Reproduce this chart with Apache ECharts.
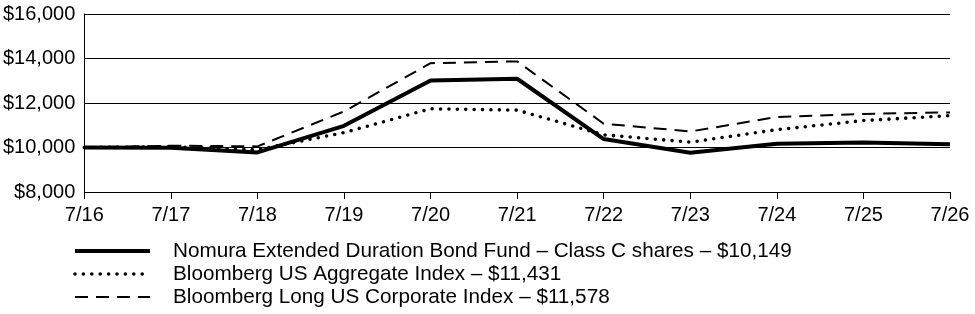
<!DOCTYPE html>
<html>
<head>
<meta charset="utf-8">
<script src="https://cdn.jsdelivr.net/npm/echarts@6/dist/echarts.min.js"></script>
<style>
  html, body { margin: 0; padding: 0; background: #fff; }
  #chart { width: 975px; height: 314px; }
</style>
</head>
<body>
<div id="chart"></div>
<script>
// growth of $10,000
const periods = ['7/16', '7/17', '7/18', '7/19', '7/20', '7/21', '7/22', '7/23', '7/24', '7/25', '7/26'];
const fundValues = [10000, 9990, 9780, 10975, 13010, 13090, 10380, 9760, 10170, 10220, 10149];
const aggValues = [10000, 10030, 9900, 10670, 11740, 11680, 10570, 10240, 10800, 11210, 11431];
const corpValues = [10000, 10080, 10050, 11620, 13790, 13870, 11070, 10720, 11370, 11510, 11578];
const seriesNames = [
    'Nomura Extended Duration Bond Fund \u2013 Class C shares \u2013 $10,149',
    'Bloomberg US Aggregate Index \u2013 $11,431',
    'Bloomberg Long US Corporate Index \u2013 $11,578'
];

const fontFamily = 'Arial, "Liberation Sans", Helvetica, sans-serif';

//line styles shared by the series and the hand drawn legend
const lineStyles = [
    { color: '#000', width: 4 },
    { color: '#000', width: 3.6, type: [0, 8.4], cap: 'round' },
    { color: '#000', width: 2, type: [13, 8] }
];

//legend drawn with graphic so it stays in one column
const legendRows = [251, 274, 297];
const legendGraphic = [];
seriesNames.forEach((name, i) => {
    const ls = lineStyles[i];
    legendGraphic.push({
        type: 'line',
        shape: { x1: 75, y1: legendRows[i], x2: 150, y2: legendRows[i] },
        style: {
            stroke: ls.color,
            lineWidth: ls.width,
            lineDash: ls.type || null,
            lineCap: ls.cap || 'butt'
        }
    });
    legendGraphic.push({
        type: 'text',
        x: 173,
        y: legendRows[i],
        style: {
            text: name,
            fill: '#000',
            font: '20.7px ' + fontFamily,
            verticalAlign: 'middle'
        }
    });
});

let myChart = echarts.init(document.getElementById('chart'));
myChart.setOption({
    animation: false,
    backgroundColor: '#fff',
    textStyle: { fontFamily: fontFamily, color: '#000' },
    grid: { left: 82, right: 25, top: 14, bottom: 122, containLabel: false },
    graphic: legendGraphic,
    xAxis: {
        type: 'category',
        boundaryGap: false,
        data: periods,
        axisLine: { lineStyle: { color: '#000', width: 1 } },
        axisTick: { show: true, length: 7, lineStyle: { color: '#000' } },
        axisLabel: { fontSize: 20, color: '#000', margin: 13 },
        splitLine: { show: false }
    },
    yAxis: {
        type: 'value',
        min: 8000,
        max: 16000,
        interval: 2000,
        axisLine: { show: true, lineStyle: { color: '#000', width: 1 } },
        axisTick: { show: false },
        axisLabel: {
            fontSize: 20,
            color: '#000',
            margin: 9,
            formatter: v => '$' + v.toLocaleString('en-US')
        },
        splitLine: { lineStyle: { color: '#000', width: 1 } }
    },
    series: [
        {
            name: seriesNames[0],
            type: 'line',
            data: fundValues,
            symbol: 'none',
            z: 3,
            lineStyle: lineStyles[0]
        },
        {
            name: seriesNames[1],
            type: 'line',
            data: aggValues,
            symbol: 'none',
            z: 2,
            lineStyle: lineStyles[1]
        },
        {
            name: seriesNames[2],
            type: 'line',
            data: corpValues,
            symbol: 'none',
            z: 2,
            lineStyle: lineStyles[2]
        }
    ]
});
</script>
</body>
</html>
